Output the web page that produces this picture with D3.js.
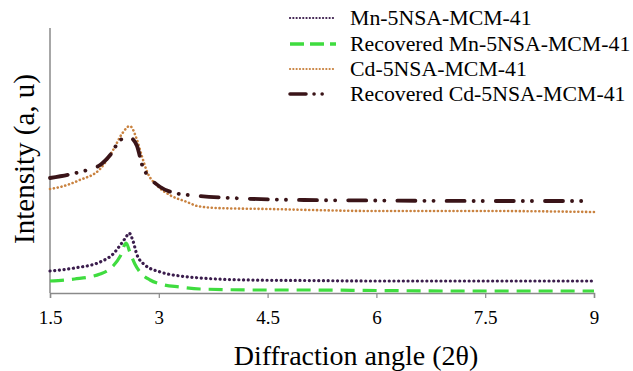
<!DOCTYPE html>
<html><head><meta charset="utf-8">
<script src="https://cdn.jsdelivr.net/npm/d3@7"></script>
<style>body{margin:0;background:#fff}svg{display:block}text{font-family:"Liberation Serif","Times New Roman",serif}</style>
</head><body>
<svg id="c" width="633" height="371"></svg>
<script>
const xTicks = [1.5, 3, 4.5, 6, 7.5, 9];
const seriesNames = ["Mn-5NSA-MCM-41","Recovered Mn-5NSA-MCM-41","Cd-5NSA-MCM-41","Recovered Cd-5NSA-MCM-41"];
const mnX  = [1.5,1.84,2.19,2.37,2.47,2.55,2.59,2.64,2.70,2.81,3.02,3.29,3.57,4.26,5,6,7,8,9];
const mnY  = [22,25,31,39,48,56,60,53,38,28,21,17,15,13,12.5,12,12,12,12];
const rmnX = [1.5,1.84,2.19,2.37,2.47,2.55,2.60,2.67,2.74,2.88,3.02,3.29,3.57,4.42,5,6,7,8,9];
const rmnY = [12,14,19,27,37,50,41,29,21,13,9,6,4,3,3,2.5,2,2,2];
const cdX  = [1.5,1.64,1.91,2.19,2.37,2.50,2.60,2.70,2.77,2.84,2.97,3.15,3.39,3.53,3.8,4.5,6,7.5,9];
const cdY  = [104,106,113,124,143,160,167,153,136,121,108,98,91,87,85,84,82,82,81];
const rcdX = [1.5,1.91,2.19,2.33,2.47,2.58,2.64,2.70,2.77,2.88,3.02,3.22,3.57,4.0,5,6,7.5,9];
const rcdY = [115,121,128,138,153,156,154,147,128,115,106,100,97,95,93,92.5,92,92];

const svg = d3.select("#c");
const x = d3.scaleLinear().domain([1.5, 9]).range([50, 594]);
const y = d3.scaleLinear().domain([0, 265]).range([293, 28]);
const FF = '"Liberation Serif","Times New Roman",serif';

svg.append("line").attr("x1",50).attr("x2",50).attr("y1",28).attr("y2",293)
  .attr("stroke","#8a8a8a").attr("stroke-width",1.5);
const xa = svg.append("g").attr("transform","translate(0,293)")
  .call(d3.axisBottom(x).tickValues(xTicks).tickSize(5).tickPadding(13).tickFormat(d3.format("")));
xa.attr("font-family", FF);
xa.select(".domain").attr("stroke","#8a8a8a").attr("stroke-width",1.5);
xa.selectAll(".tick line").attr("stroke","#8a8a8a").attr("stroke-width",1.2);
xa.selectAll(".tick text").style("font-family",FF).attr("font-size",19).attr("fill","#000");

svg.append("text").attr("x",356).attr("y",365).attr("text-anchor","middle")
  .style("font-family",FF).attr("font-size",28).text("Diffraction angle (2θ)");
svg.append("text").attr("transform","translate(34,159) rotate(-90)").attr("text-anchor","middle")
  .style("font-family",FF).attr("font-size",29).text("Intensity (a, u)");

const styles = [
  {xs:mnX, ys:mnY, color:"#3b1d4d", w:3.2, dash:"0.1 4.6", cap:"round"},
  {xs:rmnX, ys:rmnY, color:"#3fdc3f", w:3.2, dash:"14 8", cap:"butt"},
  {xs:cdX, ys:cdY, color:"#c9823f", w:2.6, dash:"0.1 3.8", cap:"round"},
  {xs:rcdX, ys:rcdY, color:"#3a1418", w:3.8, dash:"18 9 0.1 9 0.1 13", cap:"round"}
];
const line = d3.line().x(d=>x(d[0])).y(d=>y(d[1])).curve(d3.curveMonotoneX);
[1,0,2,3].forEach(i=>{
  const s = styles[i];
  svg.append("path").datum(s.xs.map((v,k)=>[v,s.ys[k]]))
    .attr("d",line).attr("fill","none").attr("stroke",s.color)
    .attr("stroke-width",s.w).attr("stroke-dasharray",s.dash).attr("stroke-linecap",s.cap);
});

const ly = [18, 44, 69, 94];
seriesNames.forEach((n,i)=>{
  const s = styles[i];
  svg.append("line").attr("x1",290).attr("x2",336).attr("y1",ly[i]).attr("y2",ly[i])
    .attr("stroke",s.color).attr("stroke-width",i===1?3.5:(i===3?3.5:2.2))
    .attr("stroke-dasharray", i===1 ? "14 6" : (i===3 ? "16 8 0.1 8 0.1 20" : "0.1 3.2"))
    .attr("stroke-linecap", s.cap);
  svg.append("text").attr("x",350).attr("y",ly[i]+7).style("font-family",FF)
    .attr("font-size",21.8).attr("fill","#000").text(n);
});
</script>
</body></html>
